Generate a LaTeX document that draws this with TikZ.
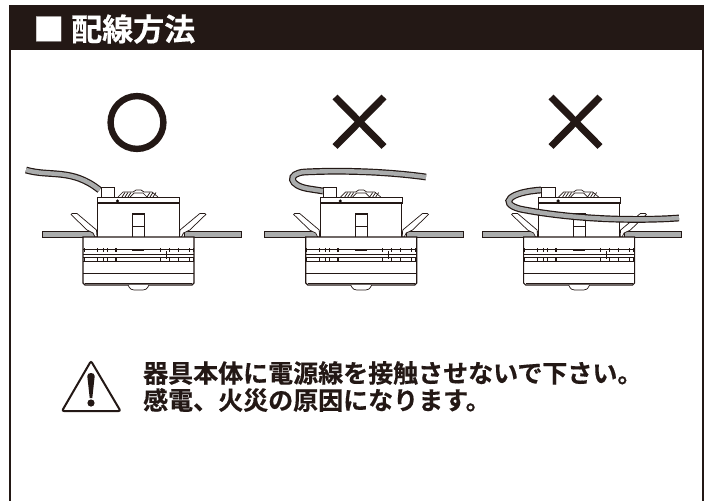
\documentclass[tikz,border=0pt]{standalone}
\usepackage{fontspec}
\newfontfamily\jpfont{Noto Sans CJK JP}[BoldFont={Noto Sans CJK JP Bold},BoldFeatures={FakeBold=0.45}]
\usetikzlibrary{positioning}
\definecolor{inkblack}{RGB}{35,24,21}
\definecolor{cablegray}{RGB}{170,172,172}
\tikzset{
  thinline/.style={ draw=inkblack, line width=0.7pt },
  bodyline/.style={ draw=inkblack, line width=1.2pt },
  ceiling/.style={ draw=inkblack, fill=cablegray, line width=0.8pt },
  cable/.style={ draw=inkblack, line width=1.2pt, double=cablegray, double distance=4.4pt },
  cross/.style={ draw=inkblack, line width=7pt },
  title/.style={ text=white, anchor=west, font=\jpfont\bfseries\fontsize{31}{31}\selectfont, inner sep=0pt },
  notice/.style={ text=inkblack, anchor=west, font=\jpfont\bfseries\fontsize{25}{25}\selectfont, inner sep=0pt }
}
\begin{document}
\begin{tikzpicture}[x=1pt, y=-1pt]
        \useasboundingbox (0, 0) rectangle (710, 501);
        \fill[white] (0, 0) rectangle (710, 501);
        % frame
        \draw[inkblack, line width=2pt] (10, 50) -- (10, 501);
        \draw[inkblack, line width=2pt] (703, 50) -- (703, 501);
        \fill[inkblack] (9, 5) rectangle (703.5, 50);
        \node[title] (head) at (33, 29) {■ 配線方法};
        % marks
        \draw[inkblack, line width=6.4pt] (137, 122.5) circle (26.4);
        \foreach \mx in {359.5, 575.5} {
          \draw[cross] (\mx-24.5, 97) -- (\mx+24.5, 146.5);
          \draw[cross] (\mx-24.5, 146.5) -- (\mx+24.5, 97);
        }
        % the three fittings
        \foreach \dx in {0, 222.7, 440.6} {
          \begin{scope}[xshift=\dx]
            \draw[ceiling] (42, 231.5) rectangle (97, 237.5);
            \draw[ceiling] (184, 231.5) rectangle (241, 237.5);
            % clips
            \draw[thinline, fill=white] (71, 214.5) -- (72, 213.5) -- (77, 213.5) -- (96.5, 230) -- (97, 237) -- (95, 237) -- (93, 233) -- (87, 230) -- cycle;
            \draw[thinline, fill=white] (205.8, 214.5) -- (204.8, 213.5) -- (199.8, 213.5) -- (180, 230) -- (179.5, 237) -- (181.5, 237) -- (183.5, 233) -- (189.8, 230) -- cycle;
            % upper box
            \draw[thinline] (97.5, 203) rectangle (179, 237);
            \draw[thinline] (101, 197) rectangle (114, 187);
            \draw[bodyline, fill=white] (97.5, 197.5) rectangle (179.5, 203);
            \draw[inkblack, fill=black] (117.5, 201) circle (1.4);
            % dome
            \draw[thinline] (118, 197) -- (123, 192) -- (133, 192) -- (136, 190) -- (141, 190) -- (144, 192) -- (152, 192) -- (158, 197);
            \foreach \fx in {122, 125, 128, 147, 150, 153} {
              \draw[thinline] (\fx, 197) -- (\fx+3, 192.5);
            }
            \draw[thinline] (130, 197) -- (134, 193) -- (143, 193) -- (147, 197);
            % window
            \draw[thinline] (132.5, 213.5) rectangle (144.5, 237);
            \draw[thinline] (132.5, 226) -- (144.5, 226);
            \draw[bodyline] (132.5, 214) -- (144.5, 214);
            % lower body
            \draw[bodyline, fill=white] (83, 237) -- (83, 283) -- (85, 285) -- (192, 285) -- (194, 283) -- (194, 237) -- cycle;
            \foreach \ly in {249.5, 254.5, 257.5, 261.5, 273.5} {
              \draw[bodyline] (83, \ly) -- (194, \ly);
            }
            \draw[inkblack, line width=2pt] (132, 250) -- (144, 250);
            \draw[thinline] (85, 283) -- (192, 283);
            \foreach \vx in {84, 97, 103, 107, 115, 116, 160, 169, 178, 189, 193} {
              \draw[thinline] (\vx, 248) -- (\vx, 252);
              \draw[thinline] (\vx, 258) -- (\vx, 262);
            }
            \draw[thinline] (166, 251) -- (166, 259);
            % bottom cap
            \draw[thinline, fill=white] (128, 285) .. controls (130, 289.5) and (132, 290) .. (134, 290) -- (143, 290) .. controls (145, 290) and (147, 289.5) .. (149, 285);
          \end{scope}
        }
        % cables
        \draw[cable] (26, 170) .. controls (50, 177) and (72, 168) .. (99.5, 190);
        \draw[cable] (323, 191) -- (310, 189) .. controls (288, 186) and (287, 173) .. (305, 172) .. controls (345, 170) and (390, 172) .. (426, 177);
        \draw[thinline, fill=white] (541.5, 187) rectangle (555, 197);
        \draw[cable] (541, 190) .. controls (510, 192) and (498, 203) .. (520, 209) .. controls (560, 217) and (620, 222) .. (679, 218);
        % caution
        \draw[inkblack, line width=2pt, rounded corners=2pt] (91, 361) -- (120.5, 411) -- (62, 411) -- cycle;
        \fill[inkblack] (87.3, 376) .. controls (87.3, 372) and (94.7, 372) .. (94.7, 376) -- (92.3, 398) -- (89.7, 398) -- cycle;
        \fill[inkblack] (91, 403) circle (3.6);
        \node[notice] (line1) at (143, 373) {器具本体に電源線を接触させないで下さい。};
        \node[notice] (line2) at (143, 400) {感電、火災の原因になります。};
      \end{tikzpicture}
\end{document}
